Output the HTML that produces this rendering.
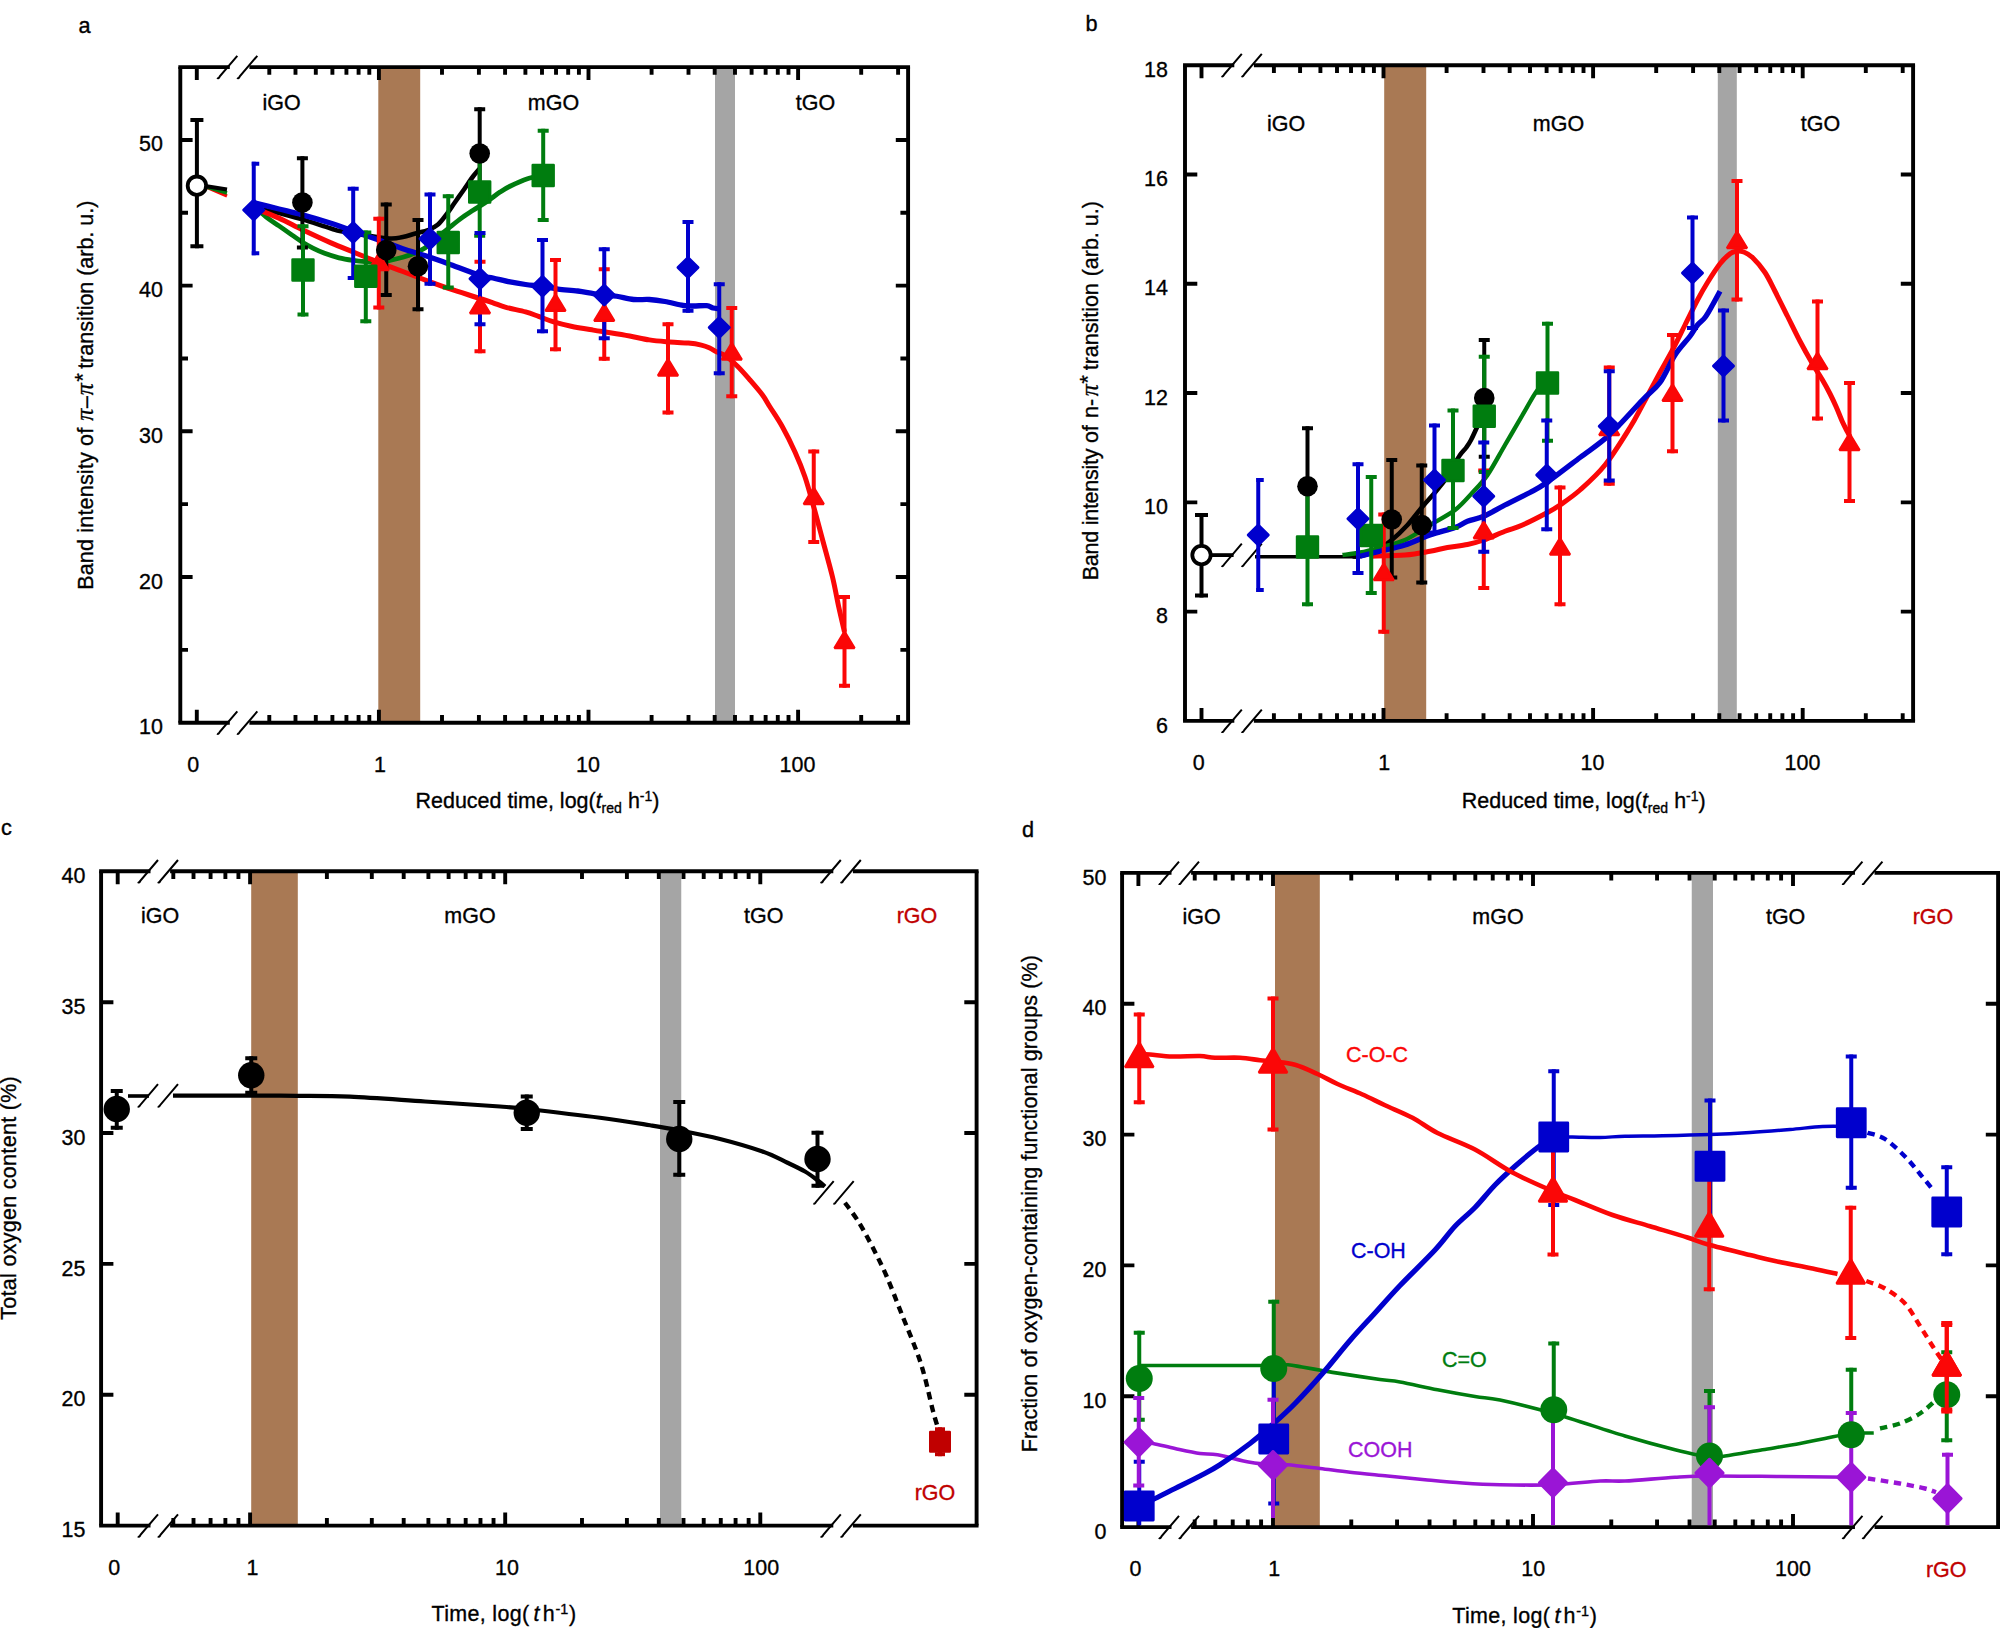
<!DOCTYPE html>
<html><head><meta charset="utf-8"><title>Figure</title>
<style>
html,body{margin:0;padding:0;background:#fff;}
svg{display:block;font-family:"Liberation Sans",sans-serif;}
text{stroke-width:0.35px;paint-order:stroke;}
</style></head><body>
<svg xmlns="http://www.w3.org/2000/svg" width="2000" height="1628" viewBox="0 0 2000 1628">
<rect width="2000" height="1628" fill="#fff"/>
<rect x="378.3" y="67.1" width="41.9" height="655.6" fill="#a97954"/>
<rect x="715" y="67.1" width="20" height="655.6" fill="#a5a5a5"/>
<path d="M178.35,67.1H229.8" stroke="#000" stroke-width="3.9"/>
<path d="M249.4,67.1H910.05" stroke="#000" stroke-width="3.9"/>
<path d="M178.35,722.7H229.8" stroke="#000" stroke-width="3.9"/>
<path d="M249.4,722.7H910.05" stroke="#000" stroke-width="3.9"/>
<path d="M180.3,67.1V722.7M908.1,67.1V722.7" stroke="#000" stroke-width="3.9"/>
<path d="M217,78Q218.6,79 219.8,76.3L237.3,55.8" stroke="#000" stroke-width="2" fill="none" stroke-linecap="butt"/>
<path d="M237,78Q238.6,79 239.8,76.3L257.3,55.8" stroke="#000" stroke-width="2" fill="none" stroke-linecap="butt"/>
<path d="M217,733.6Q218.6,734.6 219.8,731.9L237.3,711.4" stroke="#000" stroke-width="2" fill="none" stroke-linecap="butt"/>
<path d="M237,733.6Q238.6,734.6 239.8,731.9L257.3,711.4" stroke="#000" stroke-width="2" fill="none" stroke-linecap="butt"/>
<path d="M196.8,67.1v13M196.8,722.7v-13M378.9,67.1v13M378.9,722.7v-13M588.5,67.1v13M588.5,722.7v-13M798.1,67.1v13M798.1,722.7v-13M269.3,67.1v7.7M269.3,722.7v-7.7M295.49,67.1v7.7M295.49,722.7v-7.7M315.8,67.1v7.7M315.8,722.7v-7.7M332.4,67.1v7.7M332.4,722.7v-7.7M346.43,67.1v7.7M346.43,722.7v-7.7M358.59,67.1v7.7M358.59,722.7v-7.7M369.31,67.1v7.7M369.31,722.7v-7.7M442,67.1v7.7M442,722.7v-7.7M478.9,67.1v7.7M478.9,722.7v-7.7M505.09,67.1v7.7M505.09,722.7v-7.7M525.4,67.1v7.7M525.4,722.7v-7.7M542,67.1v7.7M542,722.7v-7.7M556.03,67.1v7.7M556.03,722.7v-7.7M568.19,67.1v7.7M568.19,722.7v-7.7M578.91,67.1v7.7M578.91,722.7v-7.7M651.6,67.1v7.7M651.6,722.7v-7.7M688.5,67.1v7.7M688.5,722.7v-7.7M714.69,67.1v7.7M714.69,722.7v-7.7M735,67.1v7.7M735,722.7v-7.7M751.6,67.1v7.7M751.6,722.7v-7.7M765.63,67.1v7.7M765.63,722.7v-7.7M777.79,67.1v7.7M777.79,722.7v-7.7M788.51,67.1v7.7M788.51,722.7v-7.7M861.2,67.1v7.7M861.2,722.7v-7.7M898.1,67.1v7.7M898.1,722.7v-7.7M180.3,577.01h12.3M908.1,577.01h-12.3M180.3,431.32h12.3M908.1,431.32h-12.3M180.3,285.63h12.3M908.1,285.63h-12.3M180.3,139.94h12.3M908.1,139.94h-12.3M180.3,649.86h7.7M908.1,649.86h-7.7M180.3,504.17h7.7M908.1,504.17h-7.7M180.3,358.48h7.7M908.1,358.48h-7.7M180.3,212.79h7.7M908.1,212.79h-7.7" stroke="#000" stroke-width="3.9" fill="none"/>
<path d="M205,186.5 L227,196" fill="none" stroke="#fb0707" stroke-width="3.5" stroke-linejoin="round" stroke-linecap="butt"/>
<path d="M205,186.5 L227,193" fill="none" stroke="#007d0f" stroke-width="3.5" stroke-linejoin="round" stroke-linecap="butt"/>
<path d="M205,186 L227,189.5" fill="none" stroke="#000" stroke-width="4" stroke-linejoin="round" stroke-linecap="butt"/>
<path d="M253,207.7 C257.33,208.57 270.75,210.95 279,212.9 C287.25,214.85 293.83,216.8 302.5,219.4 C311.17,222 324.08,226.43 331,228.5 C337.92,230.57 334.67,230.17 344,231.8 C353.33,233.43 377.2,237.43 387,238.3 C396.8,239.17 398.22,237.76 402.8,237 C407.38,236.24 410.17,234.95 414.5,233.75 C418.83,232.55 424.88,231.33 428.8,229.8 C432.72,228.28 435.18,226.98 438,224.6 C440.82,222.22 442.9,219.18 445.7,215.5 C448.5,211.82 451.75,206.83 454.8,202.5 C457.85,198.17 460.97,193.83 464,189.5 C467.03,185.17 470.4,179.98 473,176.5 C475.6,173.02 478.5,169.92 479.6,168.6" fill="none" stroke="#000" stroke-width="4.6" stroke-linejoin="round" stroke-linecap="butt"/>
<path d="M253,205.1 C255.17,207.05 261.67,213.33 266,216.8 C270.33,220.27 274.65,222.85 279,225.9 C283.35,228.95 288.18,232.38 292.1,235.1 C296.02,237.82 299.03,240.03 302.5,242.2 C305.97,244.37 309.22,246.25 312.9,248.1 C316.58,249.95 320.25,251.68 324.6,253.3 C328.95,254.92 334.22,256.62 339,257.8 C343.78,258.98 348.97,259.75 353.3,260.4 C357.63,261.05 360.77,261.37 365,261.7 C369.23,262.03 374.58,262.62 378.7,262.4 C382.82,262.18 385.68,261.27 389.7,260.4 C393.72,259.53 398.67,258.38 402.8,257.2 C406.93,256.02 410.82,254.82 414.5,253.3 C418.18,251.78 421.43,250.48 424.9,248.1 C428.37,245.72 431.4,242.27 435.3,239 C439.2,235.73 443.95,231.98 448.3,228.5 C452.65,225.02 457.27,221.13 461.4,218.1 C465.53,215.07 468.77,213.12 473.1,210.3 C477.43,207.48 482.92,204.23 487.4,201.2 C491.88,198.17 496.23,194.59 500,192.1 C503.77,189.61 505.42,188.47 510,186.25 C514.58,184.03 521.88,180.62 527.5,178.75 C533.12,176.88 541.04,175.62 543.75,175" fill="none" stroke="#007d0f" stroke-width="4.8" stroke-linejoin="round" stroke-linecap="butt"/>
<path d="M253,207.7 C257.33,209.43 270.75,214.42 279,218.1 C287.25,221.78 293.83,225.67 302.5,229.8 C311.17,233.93 322.53,239.2 331,242.9 C339.47,246.6 345.35,248.75 353.3,252 C361.25,255.25 370.45,259.15 378.7,262.4 C386.95,265.65 394.23,268.25 402.8,271.5 C411.37,274.75 422.52,279.08 430.1,281.9 C437.68,284.72 439.98,285.63 448.3,288.4 C456.62,291.17 472.55,296.1 480,298.5 C487.45,300.9 488.67,301.33 493,302.8 C497.33,304.27 500.57,305.78 506,307.3 C511.43,308.82 520.17,310.38 525.6,311.9 C531.03,313.42 534.05,314.78 538.6,316.4 C543.15,318.02 547.48,319.97 552.9,321.6 C558.32,323.23 564.37,324.78 571.1,326.2 C577.83,327.62 586.78,329.02 593.3,330.1 C599.82,331.18 604.13,331.72 610.2,332.7 C616.27,333.68 623.18,334.8 629.7,336 C636.22,337.2 643,338.93 649.3,339.9 C655.6,340.87 661,341.27 667.5,341.8 C674,342.33 682.65,342.55 688.3,343.1 C693.95,343.65 697.92,344.33 701.4,345.1 C704.88,345.87 706.6,346.55 709.2,347.7 C711.8,348.85 714.37,350.7 717,352 C719.63,353.3 721.58,353.12 725,355.5 C728.42,357.88 733.33,362.17 737.5,366.25 C741.67,370.33 745.83,375.21 750,380 C754.17,384.79 759.17,390.5 762.5,395 C765.83,399.5 766.67,401.67 770,407 C773.33,412.33 778.33,419.5 782.5,427 C786.67,434.5 791.25,443.67 795,452 C798.75,460.33 801.88,467.83 805,477 C808.12,486.17 810.83,496.58 813.75,507 C816.67,517.42 819.38,527.83 822.5,539.5 C825.62,551.17 829.79,565.75 832.5,577 C835.21,588.25 836.75,597.83 838.75,607 C840.75,616.17 843.54,627.83 844.5,632" fill="none" stroke="#fb0707" stroke-width="5" stroke-linejoin="round" stroke-linecap="butt"/>
<path d="M253,202.5 C257.33,203.58 270.75,206.93 279,209 C287.25,211.07 293.83,212.52 302.5,214.9 C311.17,217.28 322.53,220.6 331,223.3 C339.47,226 346.77,228.82 353.3,231.1 C359.83,233.38 364.57,235.03 370.2,237 C375.83,238.97 381.67,240.95 387.1,242.9 C392.53,244.85 395.63,246.32 402.8,248.7 C409.97,251.08 422.52,254.7 430.1,257.2 C437.68,259.7 439.98,260.67 448.3,263.7 C456.62,266.73 472.55,273.02 480,275.4 C487.45,277.78 488,276.92 493,278 C498,279.08 504.57,280.82 510,281.9 C515.43,282.98 520.18,283.73 525.6,284.5 C531.02,285.27 537.08,285.73 542.5,286.5 C547.92,287.27 552.23,288.35 558.1,289.1 C563.97,289.85 571.83,290.25 577.7,291 C583.57,291.75 588.87,292.93 593.3,293.6 C597.73,294.27 600.4,294.56 604.3,295 C608.2,295.44 611.82,295.5 616.7,296.25 C621.58,297 628.17,298.96 633.6,299.5 C639.03,300.04 644.08,299.17 649.3,299.5 C654.52,299.83 659.27,300.52 664.9,301.5 C670.53,302.48 678.33,304.65 683.1,305.4 C687.87,306.15 689.58,305.97 693.5,306 C697.42,306.03 703.33,305.27 706.6,305.6 C709.87,305.93 711.15,307.5 713.1,308 C715.05,308.5 717.43,308.5 718.3,308.6" fill="none" stroke="#0000cd" stroke-width="5.3" stroke-linejoin="round" stroke-linecap="butt"/>
<path d="M378.8,216.75V309.5" fill="none" stroke="#fb0707" stroke-width="4"/>
<rect x="373.3" y="216.75" width="11" height="4" fill="#fb0707"/>
<rect x="373.3" y="305.5" width="11" height="4" fill="#fb0707"/>
<path d="M480,259.75V353.25" fill="none" stroke="#fb0707" stroke-width="4"/>
<rect x="474.5" y="259.75" width="11" height="4" fill="#fb0707"/>
<rect x="474.5" y="349.25" width="11" height="4" fill="#fb0707"/>
<path d="M555.5,258V351.25" fill="none" stroke="#fb0707" stroke-width="4"/>
<rect x="550" y="258" width="11" height="4" fill="#fb0707"/>
<rect x="550" y="347.25" width="11" height="4" fill="#fb0707"/>
<path d="M604.25,267.25V360.75" fill="none" stroke="#fb0707" stroke-width="4"/>
<rect x="598.75" y="267.25" width="11" height="4" fill="#fb0707"/>
<rect x="598.75" y="356.75" width="11" height="4" fill="#fb0707"/>
<path d="M668,322.25V414.5" fill="none" stroke="#fb0707" stroke-width="4"/>
<rect x="662.5" y="322.25" width="11" height="4" fill="#fb0707"/>
<rect x="662.5" y="410.5" width="11" height="4" fill="#fb0707"/>
<path d="M731.75,306V398.25" fill="none" stroke="#fb0707" stroke-width="4"/>
<rect x="726.25" y="306" width="11" height="4" fill="#fb0707"/>
<rect x="726.25" y="394.25" width="11" height="4" fill="#fb0707"/>
<path d="M813.75,449.5V544" fill="none" stroke="#fb0707" stroke-width="4"/>
<rect x="808.25" y="449.5" width="11" height="4" fill="#fb0707"/>
<rect x="808.25" y="540" width="11" height="4" fill="#fb0707"/>
<path d="M844.5,595V687.75" fill="none" stroke="#fb0707" stroke-width="4"/>
<rect x="839" y="595" width="11" height="4" fill="#fb0707"/>
<rect x="839" y="683.75" width="11" height="4" fill="#fb0707"/>
<path d="M302.4,156.25V249.5" fill="none" stroke="#000" stroke-width="4"/>
<rect x="296.9" y="156.25" width="11" height="4" fill="#000"/>
<rect x="296.9" y="245.5" width="11" height="4" fill="#000"/>
<path d="M386.25,202.5V297" fill="none" stroke="#000" stroke-width="4"/>
<rect x="380.75" y="202.5" width="11" height="4" fill="#000"/>
<rect x="380.75" y="293" width="11" height="4" fill="#000"/>
<path d="M418,218V311.25" fill="none" stroke="#000" stroke-width="4"/>
<rect x="412.5" y="218" width="11" height="4" fill="#000"/>
<rect x="412.5" y="307.25" width="11" height="4" fill="#000"/>
<path d="M479.7,107.25V200" fill="none" stroke="#000" stroke-width="4"/>
<rect x="474.2" y="107.25" width="11" height="4" fill="#000"/>
<rect x="474.2" y="196" width="11" height="4" fill="#000"/>
<path d="M196.9,118V248.25" fill="none" stroke="#000" stroke-width="4"/>
<rect x="190.4" y="118" width="13" height="4" fill="#000"/>
<rect x="190.4" y="244.25" width="13" height="4" fill="#000"/>
<path d="M303,224.25V316.5" fill="none" stroke="#007d0f" stroke-width="4"/>
<rect x="297.5" y="224.25" width="11" height="4" fill="#007d0f"/>
<rect x="297.5" y="312.5" width="11" height="4" fill="#007d0f"/>
<path d="M365.8,230.5V323.25" fill="none" stroke="#007d0f" stroke-width="4"/>
<rect x="360.3" y="230.5" width="11" height="4" fill="#007d0f"/>
<rect x="360.3" y="319.25" width="11" height="4" fill="#007d0f"/>
<path d="M448.25,194.25V289.5" fill="none" stroke="#007d0f" stroke-width="4"/>
<rect x="442.75" y="194.25" width="11" height="4" fill="#007d0f"/>
<rect x="442.75" y="285.5" width="11" height="4" fill="#007d0f"/>
<path d="M479.7,145V237.75" fill="none" stroke="#007d0f" stroke-width="4"/>
<rect x="474.2" y="145" width="11" height="4" fill="#007d0f"/>
<rect x="474.2" y="233.75" width="11" height="4" fill="#007d0f"/>
<path d="M543.2,128.75V222" fill="none" stroke="#007d0f" stroke-width="4"/>
<rect x="537.7" y="128.75" width="11" height="4" fill="#007d0f"/>
<rect x="537.7" y="218" width="11" height="4" fill="#007d0f"/>
<path d="M253.75,161.75V255.25" fill="none" stroke="#0000cd" stroke-width="4"/>
<rect x="251.75" y="161.75" width="7.5" height="4" fill="#0000cd"/>
<rect x="251.75" y="251.25" width="7.5" height="4" fill="#0000cd"/>
<path d="M353.2,186.75V280" fill="none" stroke="#0000cd" stroke-width="4"/>
<rect x="347.7" y="186.75" width="11" height="4" fill="#0000cd"/>
<rect x="347.7" y="276" width="11" height="4" fill="#0000cd"/>
<path d="M430,192.5V285.75" fill="none" stroke="#0000cd" stroke-width="4"/>
<rect x="424.5" y="192.5" width="11" height="4" fill="#0000cd"/>
<rect x="424.5" y="281.75" width="11" height="4" fill="#0000cd"/>
<path d="M480,231V326.25" fill="none" stroke="#0000cd" stroke-width="4"/>
<rect x="474.5" y="231" width="11" height="4" fill="#0000cd"/>
<rect x="474.5" y="322.25" width="11" height="4" fill="#0000cd"/>
<path d="M542.5,238V333.25" fill="none" stroke="#0000cd" stroke-width="4"/>
<rect x="537" y="238" width="11" height="4" fill="#0000cd"/>
<rect x="537" y="329.25" width="11" height="4" fill="#0000cd"/>
<path d="M604.25,247.25V340.25" fill="none" stroke="#0000cd" stroke-width="4"/>
<rect x="598.75" y="247.25" width="11" height="4" fill="#0000cd"/>
<rect x="598.75" y="336.25" width="11" height="4" fill="#0000cd"/>
<path d="M688,220V312.75" fill="none" stroke="#0000cd" stroke-width="4"/>
<rect x="682.5" y="220" width="11" height="4" fill="#0000cd"/>
<rect x="682.5" y="308.75" width="11" height="4" fill="#0000cd"/>
<path d="M719.25,282.25V375.25" fill="none" stroke="#0000cd" stroke-width="4"/>
<rect x="713.75" y="282.25" width="11" height="4" fill="#0000cd"/>
<rect x="713.75" y="371.25" width="11" height="4" fill="#0000cd"/>
<path d="M378.8,253.5L388.8,270L368.8,270Z" fill="#fb0707" stroke="#fb0707" stroke-width="2.4" stroke-linejoin="bevel"/>
<path d="M480,296.75L490,313.25L470,313.25Z" fill="#fb0707" stroke="#fb0707" stroke-width="2.4" stroke-linejoin="bevel"/>
<path d="M555.5,294.25L565.5,310.75L545.5,310.75Z" fill="#fb0707" stroke="#fb0707" stroke-width="2.4" stroke-linejoin="bevel"/>
<path d="M604.25,304.25L614.25,320.75L594.25,320.75Z" fill="#fb0707" stroke="#fb0707" stroke-width="2.4" stroke-linejoin="bevel"/>
<path d="M668,359L678,375.5L658,375.5Z" fill="#fb0707" stroke="#fb0707" stroke-width="2.4" stroke-linejoin="bevel"/>
<path d="M731.75,343L741.75,359.5L721.75,359.5Z" fill="#fb0707" stroke="#fb0707" stroke-width="2.4" stroke-linejoin="bevel"/>
<path d="M813.75,487.5L823.75,504L803.75,504Z" fill="#fb0707" stroke="#fb0707" stroke-width="2.4" stroke-linejoin="bevel"/>
<path d="M844.5,631.5L854.5,648L834.5,648Z" fill="#fb0707" stroke="#fb0707" stroke-width="2.4" stroke-linejoin="bevel"/>
<circle cx="302.4" cy="202.5" r="10.3" fill="#000" stroke="#000" stroke-width="0"/>
<circle cx="386.25" cy="250" r="10.3" fill="#000" stroke="#000" stroke-width="0"/>
<circle cx="418" cy="266.25" r="10.3" fill="#000" stroke="#000" stroke-width="0"/>
<circle cx="479.7" cy="153.5" r="10.3" fill="#000" stroke="#000" stroke-width="0"/>
<circle cx="196.9" cy="185.7" r="9.2" fill="#fff" stroke="#000" stroke-width="3.8"/>
<rect x="292.6" y="259.6" width="20.8" height="20.8" fill="#007d0f" stroke="#007d0f" stroke-width="2.6" stroke-linejoin="round"/>
<rect x="355.4" y="265.85" width="20.8" height="20.8" fill="#007d0f" stroke="#007d0f" stroke-width="2.6" stroke-linejoin="round"/>
<rect x="437.85" y="232.1" width="20.8" height="20.8" fill="#007d0f" stroke="#007d0f" stroke-width="2.6" stroke-linejoin="round"/>
<rect x="469.3" y="181.6" width="20.8" height="20.8" fill="#007d0f" stroke="#007d0f" stroke-width="2.6" stroke-linejoin="round"/>
<rect x="532.8" y="165.1" width="20.8" height="20.8" fill="#007d0f" stroke="#007d0f" stroke-width="2.6" stroke-linejoin="round"/>
<path d="M253.75,199.83L263.92,210L253.75,220.17L243.58,210Z" fill="#0000cd" stroke="#0000cd" stroke-width="2.6" stroke-linejoin="round"/>
<path d="M353.2,222.33L363.37,232.5L353.2,242.67L343.03,232.5Z" fill="#0000cd" stroke="#0000cd" stroke-width="2.6" stroke-linejoin="round"/>
<path d="M430,228.58L440.17,238.75L430,248.92L419.83,238.75Z" fill="#0000cd" stroke="#0000cd" stroke-width="2.6" stroke-linejoin="round"/>
<path d="M480,268.58L490.17,278.75L480,288.92L469.83,278.75Z" fill="#0000cd" stroke="#0000cd" stroke-width="2.6" stroke-linejoin="round"/>
<path d="M542.5,276.08L552.67,286.25L542.5,296.42L532.33,286.25Z" fill="#0000cd" stroke="#0000cd" stroke-width="2.6" stroke-linejoin="round"/>
<path d="M604.25,284.83L614.42,295L604.25,305.17L594.08,295Z" fill="#0000cd" stroke="#0000cd" stroke-width="2.6" stroke-linejoin="round"/>
<path d="M688,257.33L698.17,267.5L688,277.67L677.83,267.5Z" fill="#0000cd" stroke="#0000cd" stroke-width="2.6" stroke-linejoin="round"/>
<path d="M719.25,317.33L729.42,327.5L719.25,337.67L709.08,327.5Z" fill="#0000cd" stroke="#0000cd" stroke-width="2.6" stroke-linejoin="round"/>
<text transform="translate(84.5,32.5) scale(1,1)" text-anchor="middle" fill="#000" stroke="#000" font-size="21.7" >a</text>
<text transform="translate(281.5,109.5) scale(0.95,1)" text-anchor="middle" fill="#000" stroke="#000" font-size="22.6" >iGO</text>
<text transform="translate(553.5,109.5) scale(0.95,1)" text-anchor="middle" fill="#000" stroke="#000" font-size="22.6" >mGO</text>
<text transform="translate(815.5,109.5) scale(0.95,1)" text-anchor="middle" fill="#000" stroke="#000" font-size="22.6" >tGO</text>
<text transform="translate(163,734.2) scale(0.95,1)" text-anchor="end" fill="#000" stroke="#000" font-size="22.6" >10</text>
<text transform="translate(163,588.51) scale(0.95,1)" text-anchor="end" fill="#000" stroke="#000" font-size="22.6" >20</text>
<text transform="translate(163,442.82) scale(0.95,1)" text-anchor="end" fill="#000" stroke="#000" font-size="22.6" >30</text>
<text transform="translate(163,297.13) scale(0.95,1)" text-anchor="end" fill="#000" stroke="#000" font-size="22.6" >40</text>
<text transform="translate(163,151.44) scale(0.95,1)" text-anchor="end" fill="#000" stroke="#000" font-size="22.6" >50</text>
<text transform="translate(193.25,772) scale(0.95,1)" text-anchor="middle" fill="#000" stroke="#000" font-size="22.6" >0</text>
<text transform="translate(380,772) scale(0.95,1)" text-anchor="middle" fill="#000" stroke="#000" font-size="22.6" >1</text>
<text transform="translate(588,772) scale(0.95,1)" text-anchor="middle" fill="#000" stroke="#000" font-size="22.6" >10</text>
<text transform="translate(797.5,772) scale(0.95,1)" text-anchor="middle" fill="#000" stroke="#000" font-size="22.6" >100</text>
<text transform="translate(537.5,807.6) scale(0.95,1)" text-anchor="middle" fill="#000" stroke="#000" font-size="22.6" >Reduced time, log(<tspan font-style="italic">t</tspan><tspan dy="5" font-size="14.8">red</tspan><tspan dy="-5"> h</tspan><tspan dy="-7" font-size="14.8">-1</tspan><tspan dy="7">)</tspan></text>
<g transform="translate(93.2,589.8) rotate(-90)" font-size="22.6" stroke="#000">
<text transform="translate(0,0) scale(0.95,1)" textLength="170.53" lengthAdjust="spacing">Band intensity of</text>
<text transform="translate(169,0) scale(0.95,1)" textLength="49.05" lengthAdjust="spacing"><tspan font-style="italic" font-family="Liberation Serif,serif" font-size="25">π</tspan>–<tspan font-style="italic" font-family="Liberation Serif,serif" font-size="25">π</tspan><tspan font-style="italic" dy="-3">*</tspan></text>
<text transform="translate(221,0) scale(0.95,1)">transition</text>
<text transform="translate(314,0) scale(0.95,1)">(arb. u.)</text>
</g>
<rect x="1384.2" y="65.2" width="42" height="655.7" fill="#a97954"/>
<rect x="1717.8" y="65.2" width="19" height="655.7" fill="#a5a5a5"/>
<path d="M1183.05,65.2H1234.3" stroke="#000" stroke-width="3.9"/>
<path d="M1253.9,65.2H1915.05" stroke="#000" stroke-width="3.9"/>
<path d="M1183.05,720.9H1234.3" stroke="#000" stroke-width="3.9"/>
<path d="M1253.9,720.9H1915.05" stroke="#000" stroke-width="3.9"/>
<path d="M1185,65.2V720.9M1913.1,65.2V720.9" stroke="#000" stroke-width="3.9"/>
<path d="M1221.5,76.1Q1223.1,77.1 1224.3,74.4L1241.8,53.9" stroke="#000" stroke-width="2" fill="none" stroke-linecap="butt"/>
<path d="M1241.5,76.1Q1243.1,77.1 1244.3,74.4L1261.8,53.9" stroke="#000" stroke-width="2" fill="none" stroke-linecap="butt"/>
<path d="M1221.5,731.8Q1223.1,732.8 1224.3,730.1L1241.8,709.6" stroke="#000" stroke-width="2" fill="none" stroke-linecap="butt"/>
<path d="M1241.5,731.8Q1243.1,732.8 1244.3,730.1L1261.8,709.6" stroke="#000" stroke-width="2" fill="none" stroke-linecap="butt"/>
<path d="M1201.5,65.2v13M1201.5,720.9v-13M1383.5,65.2v13M1383.5,720.9v-13M1593.1,65.2v13M1593.1,720.9v-13M1802.7,65.2v13M1802.7,720.9v-13M1273.9,65.2v7.7M1273.9,720.9v-7.7M1300.09,65.2v7.7M1300.09,720.9v-7.7M1320.4,65.2v7.7M1320.4,720.9v-7.7M1337,65.2v7.7M1337,720.9v-7.7M1351.03,65.2v7.7M1351.03,720.9v-7.7M1363.19,65.2v7.7M1363.19,720.9v-7.7M1373.91,65.2v7.7M1373.91,720.9v-7.7M1446.6,65.2v7.7M1446.6,720.9v-7.7M1483.5,65.2v7.7M1483.5,720.9v-7.7M1509.69,65.2v7.7M1509.69,720.9v-7.7M1530,65.2v7.7M1530,720.9v-7.7M1546.6,65.2v7.7M1546.6,720.9v-7.7M1560.63,65.2v7.7M1560.63,720.9v-7.7M1572.79,65.2v7.7M1572.79,720.9v-7.7M1583.51,65.2v7.7M1583.51,720.9v-7.7M1656.2,65.2v7.7M1656.2,720.9v-7.7M1693.1,65.2v7.7M1693.1,720.9v-7.7M1719.29,65.2v7.7M1719.29,720.9v-7.7M1739.6,65.2v7.7M1739.6,720.9v-7.7M1756.2,65.2v7.7M1756.2,720.9v-7.7M1770.23,65.2v7.7M1770.23,720.9v-7.7M1782.39,65.2v7.7M1782.39,720.9v-7.7M1793.11,65.2v7.7M1793.11,720.9v-7.7M1865.8,65.2v7.7M1865.8,720.9v-7.7M1902.7,65.2v7.7M1902.7,720.9v-7.7M1185,611.62h12.3M1913.1,611.62h-12.3M1185,502.34h12.3M1913.1,502.34h-12.3M1185,393.06h12.3M1913.1,393.06h-12.3M1185,283.78h12.3M1913.1,283.78h-12.3M1185,174.5h12.3M1913.1,174.5h-12.3" stroke="#000" stroke-width="3.9" fill="none"/>
<path d="M1255,556.75 L1355,556.75" fill="none" stroke="#000" stroke-width="3.4" stroke-linejoin="round" stroke-linecap="butt"/>
<path d="M1211,555.1 L1233.6,555.1" fill="none" stroke="#000" stroke-width="3.8" stroke-linejoin="round" stroke-linecap="butt"/>
<path d="M1352.5,556.5 C1353.75,556.46 1356.25,557.12 1360,556.25 C1363.75,555.38 1369.71,553.96 1375,551.25 C1380.29,548.54 1386.33,544.38 1391.75,540 C1397.17,535.62 1402.5,530.42 1407.5,525 C1412.5,519.58 1417.17,512.92 1421.75,507.5 C1426.33,502.08 1431.12,497.08 1435,492.5 C1438.88,487.92 1442.08,484.17 1445,480 C1447.92,475.83 1450,471.67 1452.5,467.5 C1455,463.33 1457.71,458.33 1460,455 C1462.29,451.67 1464.42,450 1466.25,447.5 C1468.08,445 1469.04,443.75 1471,440 C1472.96,436.25 1475.83,429.67 1478,425 C1480.17,420.33 1483,414.17 1484,412" fill="none" stroke="#000" stroke-width="4.6" stroke-linejoin="round" stroke-linecap="butt"/>
<path d="M1342.5,555 C1345.42,554.58 1353.75,553.75 1360,552.5 C1366.25,551.25 1372.5,549.58 1380,547.5 C1387.5,545.42 1396.67,543.75 1405,540 C1413.33,536.25 1421.67,530 1430,525 C1438.33,520 1447.92,515.42 1455,510 C1462.08,504.58 1467.08,498.33 1472.5,492.5 C1477.92,486.67 1482.08,482.92 1487.5,475 C1492.92,467.08 1499.17,455 1505,445 C1510.83,435 1517.08,424.17 1522.5,415 C1527.92,405.83 1533.33,395.33 1537.5,390 C1541.67,384.67 1545.83,384.17 1547.5,383" fill="none" stroke="#007d0f" stroke-width="4.4" stroke-linejoin="round" stroke-linecap="butt"/>
<path d="M1370,556.25 C1375.83,556.04 1395,555.83 1405,555 C1415,554.17 1422.92,552.5 1430,551.25 C1437.08,550 1441.25,548.62 1447.5,547.5 C1453.75,546.38 1461.46,545.75 1467.5,544.5 C1473.54,543.25 1477.5,542.21 1483.75,540 C1490,537.79 1498.54,533.75 1505,531.25 C1511.46,528.75 1515.42,528.12 1522.5,525 C1529.58,521.88 1541.25,515.83 1547.5,512.5 C1553.75,509.17 1554.58,508.75 1560,505 C1565.42,501.25 1572.5,496.67 1580,490 C1587.5,483.33 1596.67,475.42 1605,465 C1613.33,454.58 1623.75,437.5 1630,427.5 C1636.25,417.5 1637.5,414.17 1642.5,405 C1647.5,395.83 1655,381.67 1660,372.5 C1665,363.33 1668.33,357.92 1672.5,350 C1676.67,342.08 1680.83,333.33 1685,325 C1689.17,316.67 1693.75,307.08 1697.5,300 C1701.25,292.92 1703.75,288.54 1707.5,282.5 C1711.25,276.46 1716.25,268.54 1720,263.75 C1723.75,258.96 1727.29,255.83 1730,253.75 C1732.71,251.67 1733.96,251.54 1736.25,251.25 C1738.54,250.96 1741.04,250.96 1743.75,252 C1746.46,253.04 1748.96,254.08 1752.5,257.5 C1756.04,260.92 1761.25,266.88 1765,272.5 C1768.75,278.12 1771.25,283.96 1775,291.25 C1778.75,298.54 1783.33,307.92 1787.5,316.25 C1791.67,324.58 1795.83,333.33 1800,341.25 C1804.17,349.17 1808.75,357.29 1812.5,363.75 C1816.25,370.21 1819.58,375 1822.5,380 C1825.42,385 1827.71,389.25 1830,393.75 C1832.29,398.25 1834.17,402.29 1836.25,407 C1838.33,411.71 1840.62,417.83 1842.5,422 C1844.38,426.17 1846.25,429.5 1847.5,432 C1848.75,434.5 1849.58,436.17 1850,437" fill="none" stroke="#fb0707" stroke-width="5" stroke-linejoin="round" stroke-linecap="butt"/>
<path d="M1360,556.25 C1363.33,555.42 1372.5,553.12 1380,551.25 C1387.5,549.38 1396.67,547.71 1405,545 C1413.33,542.29 1421.67,537.92 1430,535 C1438.33,532.08 1448.75,529.79 1455,527.5 C1461.25,525.21 1462.71,523.12 1467.5,521.25 C1472.29,519.38 1477.5,518.96 1483.75,516.25 C1490,513.54 1497.29,508.96 1505,505 C1512.71,501.04 1523.04,496.25 1530,492.5 C1536.96,488.75 1538.42,488.33 1546.75,482.5 C1555.08,476.67 1569.58,465.42 1580,457.5 C1590.42,449.58 1598.83,444.58 1609.25,435 C1619.67,425.42 1634.04,408.75 1642.5,400 C1650.96,391.25 1654.58,390 1660,382.5 C1665.42,375 1670,362.71 1675,355 C1680,347.29 1686.25,341.25 1690,336.25 C1693.75,331.25 1695,328.12 1697.5,325 C1700,321.88 1702.5,320.83 1705,317.5 C1707.5,314.17 1710,309.38 1712.5,305 C1715,300.62 1718.75,293.54 1720,291.25" fill="none" stroke="#0000cd" stroke-width="5.3" stroke-linejoin="round" stroke-linecap="butt"/>
<path d="M1221.5,565.9Q1223.1,566.9 1224.3,564.2L1241.8,543.7" stroke="#000" stroke-width="2" fill="none" stroke-linecap="butt"/>
<path d="M1241.5,565.9Q1243.1,566.9 1244.3,564.2L1261.8,543.7" stroke="#000" stroke-width="2" fill="none" stroke-linecap="butt"/>
<path d="M1383.75,512.5V633.75" fill="none" stroke="#fb0707" stroke-width="4"/>
<rect x="1378.25" y="512.5" width="11" height="4" fill="#fb0707"/>
<rect x="1378.25" y="629.75" width="11" height="4" fill="#fb0707"/>
<path d="M1483.75,468.5V590" fill="none" stroke="#fb0707" stroke-width="4"/>
<rect x="1478.25" y="468.5" width="11" height="4" fill="#fb0707"/>
<rect x="1478.25" y="586" width="11" height="4" fill="#fb0707"/>
<path d="M1560,485.5V606.25" fill="none" stroke="#fb0707" stroke-width="4"/>
<rect x="1554.5" y="485.5" width="11" height="4" fill="#fb0707"/>
<rect x="1554.5" y="602.25" width="11" height="4" fill="#fb0707"/>
<path d="M1609.25,365.5V485.75" fill="none" stroke="#fb0707" stroke-width="4"/>
<rect x="1603.75" y="365.5" width="11" height="4" fill="#fb0707"/>
<rect x="1603.75" y="481.75" width="11" height="4" fill="#fb0707"/>
<path d="M1672.5,333V453.25" fill="none" stroke="#fb0707" stroke-width="4"/>
<rect x="1667" y="333" width="11" height="4" fill="#fb0707"/>
<rect x="1667" y="449.25" width="11" height="4" fill="#fb0707"/>
<path d="M1737,179V301.5" fill="none" stroke="#fb0707" stroke-width="4"/>
<rect x="1731.5" y="179" width="11" height="4" fill="#fb0707"/>
<rect x="1731.5" y="297.5" width="11" height="4" fill="#fb0707"/>
<path d="M1817.5,299.5V420.5" fill="none" stroke="#fb0707" stroke-width="4"/>
<rect x="1812" y="299.5" width="11" height="4" fill="#fb0707"/>
<rect x="1812" y="416.5" width="11" height="4" fill="#fb0707"/>
<path d="M1849.5,381V503" fill="none" stroke="#fb0707" stroke-width="4"/>
<rect x="1844" y="381" width="11" height="4" fill="#fb0707"/>
<rect x="1844" y="499" width="11" height="4" fill="#fb0707"/>
<path d="M1307.5,426.25V546" fill="none" stroke="#000" stroke-width="4"/>
<rect x="1302" y="426.25" width="11" height="4" fill="#000"/>
<rect x="1302" y="542" width="11" height="4" fill="#000"/>
<path d="M1391.75,458V579.5" fill="none" stroke="#000" stroke-width="4"/>
<rect x="1386.25" y="458" width="11" height="4" fill="#000"/>
<rect x="1386.25" y="575.5" width="11" height="4" fill="#000"/>
<path d="M1421.75,463.5V584.5" fill="none" stroke="#000" stroke-width="4"/>
<rect x="1416.25" y="463.5" width="11" height="4" fill="#000"/>
<rect x="1416.25" y="580.5" width="11" height="4" fill="#000"/>
<path d="M1484.25,338V458.75" fill="none" stroke="#000" stroke-width="4"/>
<rect x="1478.75" y="338" width="11" height="4" fill="#000"/>
<rect x="1478.75" y="454.75" width="11" height="4" fill="#000"/>
<path d="M1201.5,513V597.5" fill="none" stroke="#000" stroke-width="4"/>
<rect x="1195" y="513" width="13" height="4" fill="#000"/>
<rect x="1195" y="593.5" width="13" height="4" fill="#000"/>
<path d="M1307.5,488V606.25" fill="none" stroke="#007d0f" stroke-width="4"/>
<rect x="1302" y="488" width="11" height="4" fill="#007d0f"/>
<rect x="1302" y="602.25" width="11" height="4" fill="#007d0f"/>
<path d="M1371.25,475V595" fill="none" stroke="#007d0f" stroke-width="4"/>
<rect x="1365.75" y="475" width="11" height="4" fill="#007d0f"/>
<rect x="1365.75" y="591" width="11" height="4" fill="#007d0f"/>
<path d="M1453,408.5V530" fill="none" stroke="#007d0f" stroke-width="4"/>
<rect x="1447.5" y="408.5" width="11" height="4" fill="#007d0f"/>
<rect x="1447.5" y="526" width="11" height="4" fill="#007d0f"/>
<path d="M1484.25,354.75V474" fill="none" stroke="#007d0f" stroke-width="4"/>
<rect x="1478.75" y="354.75" width="11" height="4" fill="#007d0f"/>
<rect x="1478.75" y="470" width="11" height="4" fill="#007d0f"/>
<path d="M1547.5,321.75V442.75" fill="none" stroke="#007d0f" stroke-width="4"/>
<rect x="1542" y="321.75" width="11" height="4" fill="#007d0f"/>
<rect x="1542" y="438.75" width="11" height="4" fill="#007d0f"/>
<path d="M1258.25,478V592" fill="none" stroke="#0000cd" stroke-width="4"/>
<rect x="1256.25" y="478" width="7.5" height="4" fill="#0000cd"/>
<rect x="1256.25" y="588" width="7.5" height="4" fill="#0000cd"/>
<path d="M1358,462.25V575" fill="none" stroke="#0000cd" stroke-width="4"/>
<rect x="1352.5" y="462.25" width="11" height="4" fill="#0000cd"/>
<rect x="1352.5" y="571" width="11" height="4" fill="#0000cd"/>
<path d="M1434.5,423.5V534.5" fill="none" stroke="#0000cd" stroke-width="4"/>
<rect x="1429" y="423.5" width="11" height="4" fill="#0000cd"/>
<rect x="1429" y="530.5" width="11" height="4" fill="#0000cd"/>
<path d="M1483.75,440.5V553.75" fill="none" stroke="#0000cd" stroke-width="4"/>
<rect x="1478.25" y="440.5" width="11" height="4" fill="#0000cd"/>
<rect x="1478.25" y="549.75" width="11" height="4" fill="#0000cd"/>
<path d="M1546.75,418.5V531.25" fill="none" stroke="#0000cd" stroke-width="4"/>
<rect x="1541.25" y="418.5" width="11" height="4" fill="#0000cd"/>
<rect x="1541.25" y="527.25" width="11" height="4" fill="#0000cd"/>
<path d="M1609.25,369.25V482.5" fill="none" stroke="#0000cd" stroke-width="4"/>
<rect x="1603.75" y="369.25" width="11" height="4" fill="#0000cd"/>
<rect x="1603.75" y="478.5" width="11" height="4" fill="#0000cd"/>
<path d="M1692.5,215.5V330" fill="none" stroke="#0000cd" stroke-width="4"/>
<rect x="1687" y="215.5" width="11" height="4" fill="#0000cd"/>
<rect x="1687" y="326" width="11" height="4" fill="#0000cd"/>
<path d="M1723.5,308.5V422.5" fill="none" stroke="#0000cd" stroke-width="4"/>
<rect x="1718" y="308.5" width="11" height="4" fill="#0000cd"/>
<rect x="1718" y="418.5" width="11" height="4" fill="#0000cd"/>
<path d="M1383.75,563.5L1393.75,580L1373.75,580Z" fill="#fb0707" stroke="#fb0707" stroke-width="2.4" stroke-linejoin="bevel"/>
<path d="M1483.75,521.75L1493.75,538.25L1473.75,538.25Z" fill="#fb0707" stroke="#fb0707" stroke-width="2.4" stroke-linejoin="bevel"/>
<path d="M1560,538L1570,554.5L1550,554.5Z" fill="#fb0707" stroke="#fb0707" stroke-width="2.4" stroke-linejoin="bevel"/>
<path d="M1609.25,418.5L1619.25,435L1599.25,435Z" fill="#fb0707" stroke="#fb0707" stroke-width="2.4" stroke-linejoin="bevel"/>
<path d="M1672.5,384.25L1682.5,400.75L1662.5,400.75Z" fill="#fb0707" stroke="#fb0707" stroke-width="2.4" stroke-linejoin="bevel"/>
<path d="M1737,231.5L1747,248L1727,248Z" fill="#fb0707" stroke="#fb0707" stroke-width="2.4" stroke-linejoin="bevel"/>
<path d="M1817.5,352.5L1827.5,369L1807.5,369Z" fill="#fb0707" stroke="#fb0707" stroke-width="2.4" stroke-linejoin="bevel"/>
<path d="M1849.5,433.5L1859.5,450L1839.5,450Z" fill="#fb0707" stroke="#fb0707" stroke-width="2.4" stroke-linejoin="bevel"/>
<circle cx="1307.5" cy="486.25" r="10.3" fill="#000" stroke="#000" stroke-width="0"/>
<circle cx="1391.75" cy="519.5" r="10.3" fill="#000" stroke="#000" stroke-width="0"/>
<circle cx="1421.75" cy="525" r="10.3" fill="#000" stroke="#000" stroke-width="0"/>
<circle cx="1484.25" cy="398" r="10.3" fill="#000" stroke="#000" stroke-width="0"/>
<circle cx="1201.5" cy="555.1" r="9.2" fill="#fff" stroke="#000" stroke-width="3.8"/>
<rect x="1297.1" y="536.6" width="20.8" height="20.8" fill="#007d0f" stroke="#007d0f" stroke-width="2.6" stroke-linejoin="round"/>
<rect x="1360.85" y="525.1" width="20.8" height="20.8" fill="#007d0f" stroke="#007d0f" stroke-width="2.6" stroke-linejoin="round"/>
<rect x="1442.6" y="460.1" width="20.8" height="20.8" fill="#007d0f" stroke="#007d0f" stroke-width="2.6" stroke-linejoin="round"/>
<rect x="1473.85" y="405.85" width="20.8" height="20.8" fill="#007d0f" stroke="#007d0f" stroke-width="2.6" stroke-linejoin="round"/>
<rect x="1537.1" y="372.6" width="20.8" height="20.8" fill="#007d0f" stroke="#007d0f" stroke-width="2.6" stroke-linejoin="round"/>
<path d="M1258.25,524.83L1268.42,535L1258.25,545.17L1248.08,535Z" fill="#0000cd" stroke="#0000cd" stroke-width="2.6" stroke-linejoin="round"/>
<path d="M1358,508.58L1368.17,518.75L1358,528.92L1347.83,518.75Z" fill="#0000cd" stroke="#0000cd" stroke-width="2.6" stroke-linejoin="round"/>
<path d="M1434.5,469.83L1444.67,480L1434.5,490.17L1424.33,480Z" fill="#0000cd" stroke="#0000cd" stroke-width="2.6" stroke-linejoin="round"/>
<path d="M1483.75,486.08L1493.92,496.25L1483.75,506.42L1473.58,496.25Z" fill="#0000cd" stroke="#0000cd" stroke-width="2.6" stroke-linejoin="round"/>
<path d="M1546.75,464.83L1556.92,475L1546.75,485.17L1536.58,475Z" fill="#0000cd" stroke="#0000cd" stroke-width="2.6" stroke-linejoin="round"/>
<path d="M1609.25,416.08L1619.42,426.25L1609.25,436.42L1599.08,426.25Z" fill="#0000cd" stroke="#0000cd" stroke-width="2.6" stroke-linejoin="round"/>
<path d="M1692.5,262.83L1702.67,273L1692.5,283.17L1682.33,273Z" fill="#0000cd" stroke="#0000cd" stroke-width="2.6" stroke-linejoin="round"/>
<path d="M1723.5,355.83L1733.67,366L1723.5,376.17L1713.33,366Z" fill="#0000cd" stroke="#0000cd" stroke-width="2.6" stroke-linejoin="round"/>
<text transform="translate(1091.5,30.5) scale(1,1)" text-anchor="middle" fill="#000" stroke="#000" font-size="21.7" >b</text>
<text transform="translate(1286,130.5) scale(0.95,1)" text-anchor="middle" fill="#000" stroke="#000" font-size="22.6" >iGO</text>
<text transform="translate(1558.5,130.5) scale(0.95,1)" text-anchor="middle" fill="#000" stroke="#000" font-size="22.6" >mGO</text>
<text transform="translate(1820.5,130.5) scale(0.95,1)" text-anchor="middle" fill="#000" stroke="#000" font-size="22.6" >tGO</text>
<text transform="translate(1168,732.5) scale(0.95,1)" text-anchor="end" fill="#000" stroke="#000" font-size="22.6" >6</text>
<text transform="translate(1168,623.22) scale(0.95,1)" text-anchor="end" fill="#000" stroke="#000" font-size="22.6" >8</text>
<text transform="translate(1168,513.94) scale(0.95,1)" text-anchor="end" fill="#000" stroke="#000" font-size="22.6" >10</text>
<text transform="translate(1168,404.66) scale(0.95,1)" text-anchor="end" fill="#000" stroke="#000" font-size="22.6" >12</text>
<text transform="translate(1168,295.38) scale(0.95,1)" text-anchor="end" fill="#000" stroke="#000" font-size="22.6" >14</text>
<text transform="translate(1168,186.1) scale(0.95,1)" text-anchor="end" fill="#000" stroke="#000" font-size="22.6" >16</text>
<text transform="translate(1168,76.82) scale(0.95,1)" text-anchor="end" fill="#000" stroke="#000" font-size="22.6" >18</text>
<text transform="translate(1198.75,769.5) scale(0.95,1)" text-anchor="middle" fill="#000" stroke="#000" font-size="22.6" >0</text>
<text transform="translate(1384.25,769.5) scale(0.95,1)" text-anchor="middle" fill="#000" stroke="#000" font-size="22.6" >1</text>
<text transform="translate(1592.5,769.5) scale(0.95,1)" text-anchor="middle" fill="#000" stroke="#000" font-size="22.6" >10</text>
<text transform="translate(1802.5,769.5) scale(0.95,1)" text-anchor="middle" fill="#000" stroke="#000" font-size="22.6" >100</text>
<text transform="translate(1583.75,807.6) scale(0.95,1)" text-anchor="middle" fill="#000" stroke="#000" font-size="22.6" >Reduced time, log(<tspan font-style="italic">t</tspan><tspan dy="5" font-size="14.8">red</tspan><tspan dy="-5"> h</tspan><tspan dy="-7" font-size="14.8">-1</tspan><tspan dy="7">)</tspan></text>
<g transform="translate(1098,580.3) rotate(-90)" font-size="22.6" stroke="#000">
<text transform="translate(0,0) scale(0.95,1)" textLength="163.16" lengthAdjust="spacing">Band intensity of</text>
<text transform="translate(162.4,0) scale(0.95,1)">n-</text>
<text transform="translate(184,0) scale(0.95,1)"><tspan font-style="italic" font-family="Liberation Serif,serif" font-size="25">π</tspan><tspan font-style="italic" dy="-3">*</tspan></text>
<text transform="translate(210,0) scale(0.95,1)">transition</text>
<text transform="translate(304,0) scale(0.95,1)">(arb. u.)</text>
</g>
<rect x="251.2" y="871.3" width="46.6" height="654.3" fill="#a97954"/>
<rect x="660" y="871.3" width="21.25" height="654.3" fill="#a5a5a5"/>
<path d="M99.15,871.3H150.5" stroke="#000" stroke-width="3.9"/>
<path d="M170.1,871.3H833.3" stroke="#000" stroke-width="3.9"/>
<path d="M852.9,871.3H978.55" stroke="#000" stroke-width="3.9"/>
<path d="M99.15,1525.6H150.5" stroke="#000" stroke-width="3.9"/>
<path d="M170.1,1525.6H833.3" stroke="#000" stroke-width="3.9"/>
<path d="M852.9,1525.6H978.55" stroke="#000" stroke-width="3.9"/>
<path d="M101.1,871.3V1525.6M976.6,871.3V1525.6" stroke="#000" stroke-width="3.9"/>
<path d="M137.7,882.2Q139.3,883.2 140.5,880.5L158,860" stroke="#000" stroke-width="2" fill="none" stroke-linecap="butt"/>
<path d="M157.7,882.2Q159.3,883.2 160.5,880.5L178,860" stroke="#000" stroke-width="2" fill="none" stroke-linecap="butt"/>
<path d="M137.7,1536.5Q139.3,1537.5 140.5,1534.8L158,1514.3" stroke="#000" stroke-width="2" fill="none" stroke-linecap="butt"/>
<path d="M157.7,1536.5Q159.3,1537.5 160.5,1534.8L178,1514.3" stroke="#000" stroke-width="2" fill="none" stroke-linecap="butt"/>
<path d="M820.5,882.2Q822.1,883.2 823.3,880.5L840.8,860" stroke="#000" stroke-width="2" fill="none" stroke-linecap="butt"/>
<path d="M840.5,882.2Q842.1,883.2 843.3,880.5L860.8,860" stroke="#000" stroke-width="2" fill="none" stroke-linecap="butt"/>
<path d="M820.5,1536.5Q822.1,1537.5 823.3,1534.8L840.8,1514.3" stroke="#000" stroke-width="2" fill="none" stroke-linecap="butt"/>
<path d="M840.5,1536.5Q842.1,1537.5 843.3,1534.8L860.8,1514.3" stroke="#000" stroke-width="2" fill="none" stroke-linecap="butt"/>
<path d="M117.7,871.3v13M117.7,1525.6v-13M250.1,871.3v13M250.1,1525.6v-13M505.2,871.3v13M505.2,1525.6v-13M760.3,871.3v13M760.3,1525.6v-13M173.31,871.3v7.7M173.31,1525.6v-7.7M193.51,871.3v7.7M193.51,1525.6v-7.7M210.58,871.3v7.7M210.58,1525.6v-7.7M225.38,871.3v7.7M225.38,1525.6v-7.7M238.43,871.3v7.7M238.43,1525.6v-7.7M326.89,871.3v7.7M326.89,1525.6v-7.7M371.81,871.3v7.7M371.81,1525.6v-7.7M403.69,871.3v7.7M403.69,1525.6v-7.7M428.41,871.3v7.7M428.41,1525.6v-7.7M448.61,871.3v7.7M448.61,1525.6v-7.7M465.68,871.3v7.7M465.68,1525.6v-7.7M480.48,871.3v7.7M480.48,1525.6v-7.7M493.53,871.3v7.7M493.53,1525.6v-7.7M581.99,871.3v7.7M581.99,1525.6v-7.7M626.91,871.3v7.7M626.91,1525.6v-7.7M658.79,871.3v7.7M658.79,1525.6v-7.7M683.51,871.3v7.7M683.51,1525.6v-7.7M703.71,871.3v7.7M703.71,1525.6v-7.7M720.78,871.3v7.7M720.78,1525.6v-7.7M735.58,871.3v7.7M735.58,1525.6v-7.7M748.63,871.3v7.7M748.63,1525.6v-7.7M101.1,1394.75h12.3M976.6,1394.75h-12.3M101.1,1263.9h12.3M976.6,1263.9h-12.3M101.1,1133.05h12.3M976.6,1133.05h-12.3M101.1,1002.2h12.3M976.6,1002.2h-12.3" stroke="#000" stroke-width="3.9" fill="none"/>
<path d="M128,1096 L149,1096" fill="none" stroke="#000" stroke-width="3.6" stroke-linejoin="round" stroke-linecap="butt"/>
<path d="M173,1095.7 C186,1095.7 230.33,1095.68 251,1095.7 C271.67,1095.72 280.5,1095.63 297,1095.8 C313.5,1095.97 328.67,1095.75 350,1096.7 C371.33,1097.65 400,1099.87 425,1101.5 C450,1103.13 483.04,1105.25 500,1106.5 C516.96,1107.75 510.08,1107.12 526.75,1109 C543.42,1110.88 579.46,1115.04 600,1117.75 C620.54,1120.46 636.83,1123.17 650,1125.25 C663.17,1127.33 667.33,1127.96 679,1130.25 C690.67,1132.54 706.08,1135.46 720,1139 C733.92,1142.54 751.25,1147.54 762.5,1151.5 C773.75,1155.46 780.42,1159.42 787.5,1162.75 C794.58,1166.08 800,1168.58 805,1171.5 C810,1174.42 814.17,1177.75 817.5,1180.25 C820.83,1182.75 823.75,1185.46 825,1186.5" fill="none" stroke="#000" stroke-width="4.2" stroke-linejoin="round" stroke-linecap="butt"/>
<path d="M845,1202.75 C847.17,1205.79 853.5,1213.79 858,1221 C862.5,1228.21 867.25,1236.83 872,1246 C876.75,1255.17 881.58,1264.75 886.5,1276 C891.42,1287.25 896.5,1301 901.5,1313.5 C906.5,1326 912.67,1340.58 916.5,1351 C920.33,1361.42 921.75,1366 924.5,1376 C927.25,1386 930.75,1402.33 933,1411 C935.25,1419.67 937.17,1425.17 938,1428" fill="none" stroke="#000" stroke-width="4.4" stroke-linejoin="round" stroke-linecap="butt" stroke-dasharray="7.5 5.5"/>
<path d="M137.7,1106.4Q139.3,1107.4 140.5,1104.7L158,1084.2" stroke="#000" stroke-width="2" fill="none" stroke-linecap="butt"/>
<path d="M157.7,1106.4Q159.3,1107.4 160.5,1104.7L178,1084.2" stroke="#000" stroke-width="2" fill="none" stroke-linecap="butt"/>
<path d="M813.4,1203.4Q815,1204.4 816.2,1201.7L833.7,1181.2" stroke="#000" stroke-width="2" fill="none" stroke-linecap="butt"/>
<path d="M833.4,1203.4Q835,1204.4 836.2,1201.7L853.7,1181.2" stroke="#000" stroke-width="2" fill="none" stroke-linecap="butt"/>
<path d="M116.75,1089V1129.75" fill="none" stroke="#000" stroke-width="4"/>
<rect x="110.75" y="1089" width="12" height="4" fill="#000"/>
<rect x="110.75" y="1125.75" width="12" height="4" fill="#000"/>
<path d="M251.25,1056.25V1094.75" fill="none" stroke="#000" stroke-width="4"/>
<rect x="245.25" y="1056.25" width="12" height="4" fill="#000"/>
<rect x="245.25" y="1090.75" width="12" height="4" fill="#000"/>
<path d="M526.75,1094.5V1131" fill="none" stroke="#000" stroke-width="4"/>
<rect x="520.75" y="1094.5" width="12" height="4" fill="#000"/>
<rect x="520.75" y="1127" width="12" height="4" fill="#000"/>
<path d="M679.25,1100V1176.75" fill="none" stroke="#000" stroke-width="4"/>
<rect x="673.25" y="1100" width="12" height="4" fill="#000"/>
<rect x="673.25" y="1172.75" width="12" height="4" fill="#000"/>
<path d="M817.5,1130.75V1187.75" fill="none" stroke="#000" stroke-width="4"/>
<rect x="811.5" y="1130.75" width="12" height="4" fill="#000"/>
<rect x="811.5" y="1183.75" width="12" height="4" fill="#000"/>
<path d="M940,1427.3V1456.2" fill="none" stroke="#c00000" stroke-width="4"/>
<rect x="935" y="1427.3" width="10" height="4" fill="#c00000"/>
<rect x="935" y="1452.2" width="10" height="4" fill="#c00000"/>
<circle cx="116.75" cy="1109" r="13.2" fill="#000" stroke="#000" stroke-width="0"/>
<circle cx="251.25" cy="1075.25" r="13.2" fill="#000" stroke="#000" stroke-width="0"/>
<circle cx="526.75" cy="1112.75" r="13.2" fill="#000" stroke="#000" stroke-width="0"/>
<circle cx="679.25" cy="1139" r="13.2" fill="#000" stroke="#000" stroke-width="0"/>
<circle cx="817.5" cy="1159" r="13.2" fill="#000" stroke="#000" stroke-width="0"/>
<rect x="930.3" y="1432.05" width="19.4" height="19.4" fill="#c00000" stroke="#c00000" stroke-width="2.6" stroke-linejoin="round"/>
<text transform="translate(6.5,835.25) scale(1,1)" text-anchor="middle" fill="#000" stroke="#000" font-size="21.7" >c</text>
<text transform="translate(160,922.75) scale(0.95,1)" text-anchor="middle" fill="#000" stroke="#000" font-size="22.6" >iGO</text>
<text transform="translate(470,922.75) scale(0.95,1)" text-anchor="middle" fill="#000" stroke="#000" font-size="22.6" >mGO</text>
<text transform="translate(763.75,922.75) scale(0.95,1)" text-anchor="middle" fill="#000" stroke="#000" font-size="22.6" >tGO</text>
<text transform="translate(917,922.75) scale(0.95,1)" text-anchor="middle" fill="#c00000" stroke="#c00000" font-size="22.6" >rGO</text>
<text transform="translate(935,1500.25) scale(0.95,1)" text-anchor="middle" fill="#c00000" stroke="#c00000" font-size="22.6" >rGO</text>
<text transform="translate(85.5,1537.2) scale(0.95,1)" text-anchor="end" fill="#000" stroke="#000" font-size="22.6" >15</text>
<text transform="translate(85.5,1406.35) scale(0.95,1)" text-anchor="end" fill="#000" stroke="#000" font-size="22.6" >20</text>
<text transform="translate(85.5,1275.5) scale(0.95,1)" text-anchor="end" fill="#000" stroke="#000" font-size="22.6" >25</text>
<text transform="translate(85.5,1144.65) scale(0.95,1)" text-anchor="end" fill="#000" stroke="#000" font-size="22.6" >30</text>
<text transform="translate(85.5,1013.8) scale(0.95,1)" text-anchor="end" fill="#000" stroke="#000" font-size="22.6" >35</text>
<text transform="translate(85.5,882.95) scale(0.95,1)" text-anchor="end" fill="#000" stroke="#000" font-size="22.6" >40</text>
<text transform="translate(114.25,1574.75) scale(0.95,1)" text-anchor="middle" fill="#000" stroke="#000" font-size="22.6" >0</text>
<text transform="translate(252.5,1574.75) scale(0.95,1)" text-anchor="middle" fill="#000" stroke="#000" font-size="22.6" >1</text>
<text transform="translate(507,1574.75) scale(0.95,1)" text-anchor="middle" fill="#000" stroke="#000" font-size="22.6" >10</text>
<text transform="translate(761.25,1574.75) scale(0.95,1)" text-anchor="middle" fill="#000" stroke="#000" font-size="22.6" >100</text>
<text transform="translate(431.5,1621.4) scale(0.95,1)" font-size="22.6" stroke="#000" textLength="102.74" lengthAdjust="spacing">Time, log(</text>
<text transform="translate(533.6,1621.4) scale(0.95,1)" font-size="22.6" stroke="#000" font-style="italic">t</text>
<text transform="translate(542.8,1621.4) scale(0.95,1)" font-size="22.6" stroke="#000">h<tspan dy="-7.5" dx="0.7" font-size="15.2">-1</tspan><tspan dy="7.5" dx="0.7">)</tspan></text>
<g transform="translate(16.3,1319.7) rotate(-90)" font-size="22.6" stroke="#000">
<text transform="translate(0,0) scale(0.95,1)" textLength="256.21" lengthAdjust="spacing">Total oxygen content (%)</text>
</g>
<rect x="1275" y="872.9" width="44.8" height="654.2" fill="#a97954"/>
<rect x="1691.75" y="872.9" width="21.25" height="654.2" fill="#a5a5a5"/>
<path d="M1120.15,872.9H1171.5" stroke="#000" stroke-width="3.9"/>
<path d="M1191.1,872.9H1854.95" stroke="#000" stroke-width="3.9"/>
<path d="M1874.55,872.9H2000.05" stroke="#000" stroke-width="3.9"/>
<path d="M1120.15,1527.1H1171.5" stroke="#000" stroke-width="3.9"/>
<path d="M1191.1,1527.1H1854.95" stroke="#000" stroke-width="3.9"/>
<path d="M1874.55,1527.1H2000.05" stroke="#000" stroke-width="3.9"/>
<path d="M1122.1,872.9V1527.1M1998.1,872.9V1527.1" stroke="#000" stroke-width="3.9"/>
<path d="M1158.7,883.8Q1160.3,884.8 1161.5,882.1L1179,861.6" stroke="#000" stroke-width="2" fill="none" stroke-linecap="butt"/>
<path d="M1178.7,883.8Q1180.3,884.8 1181.5,882.1L1199,861.6" stroke="#000" stroke-width="2" fill="none" stroke-linecap="butt"/>
<path d="M1158.7,1538Q1160.3,1539 1161.5,1536.3L1179,1515.8" stroke="#000" stroke-width="2" fill="none" stroke-linecap="butt"/>
<path d="M1178.7,1538Q1180.3,1539 1181.5,1536.3L1199,1515.8" stroke="#000" stroke-width="2" fill="none" stroke-linecap="butt"/>
<path d="M1842.15,883.8Q1843.75,884.8 1844.95,882.1L1862.45,861.6" stroke="#000" stroke-width="2" fill="none" stroke-linecap="butt"/>
<path d="M1862.15,883.8Q1863.75,884.8 1864.95,882.1L1882.45,861.6" stroke="#000" stroke-width="2" fill="none" stroke-linecap="butt"/>
<path d="M1842.15,1538Q1843.75,1539 1844.95,1536.3L1862.45,1515.8" stroke="#000" stroke-width="2" fill="none" stroke-linecap="butt"/>
<path d="M1862.15,1538Q1863.75,1539 1864.95,1536.3L1882.45,1515.8" stroke="#000" stroke-width="2" fill="none" stroke-linecap="butt"/>
<path d="M1138.4,872.9v13M1138.4,1527.1v-13M1273,872.9v13M1273,1527.1v-13M1533,872.9v13M1533,1527.1v-13M1793,872.9v13M1793,1527.1v-13M1194.73,872.9v7.7M1194.73,1527.1v-7.7M1215.32,872.9v7.7M1215.32,1527.1v-7.7M1232.73,872.9v7.7M1232.73,1527.1v-7.7M1247.8,872.9v7.7M1247.8,1527.1v-7.7M1261.1,872.9v7.7M1261.1,1527.1v-7.7M1351.27,872.9v7.7M1351.27,1527.1v-7.7M1397.05,872.9v7.7M1397.05,1527.1v-7.7M1429.54,872.9v7.7M1429.54,1527.1v-7.7M1454.73,872.9v7.7M1454.73,1527.1v-7.7M1475.32,872.9v7.7M1475.32,1527.1v-7.7M1492.73,872.9v7.7M1492.73,1527.1v-7.7M1507.8,872.9v7.7M1507.8,1527.1v-7.7M1521.1,872.9v7.7M1521.1,1527.1v-7.7M1611.27,872.9v7.7M1611.27,1527.1v-7.7M1657.05,872.9v7.7M1657.05,1527.1v-7.7M1689.54,872.9v7.7M1689.54,1527.1v-7.7M1714.73,872.9v7.7M1714.73,1527.1v-7.7M1735.32,872.9v7.7M1735.32,1527.1v-7.7M1752.73,872.9v7.7M1752.73,1527.1v-7.7M1767.8,872.9v7.7M1767.8,1527.1v-7.7M1781.1,872.9v7.7M1781.1,1527.1v-7.7M1122.1,1396.26h12.3M1998.1,1396.26h-12.3M1122.1,1265.42h12.3M1998.1,1265.42h-12.3M1122.1,1134.58h12.3M1998.1,1134.58h-12.3M1122.1,1003.74h12.3M1998.1,1003.74h-12.3" stroke="#000" stroke-width="3.9" fill="none"/>
<path d="M1140,1365.5 C1150,1365.5 1177.71,1365.5 1200,1365.5 C1222.29,1365.5 1259.08,1365.62 1273.75,1365.5 C1288.42,1365.38 1283.29,1364.55 1288,1364.8 C1292.71,1365.05 1296.33,1366.05 1302,1367 C1307.67,1367.95 1315.5,1369.4 1322,1370.5 C1328.5,1371.6 1331.33,1372.1 1341,1373.6 C1350.67,1375.1 1370.17,1378.1 1380,1379.5 C1389.83,1380.9 1390.42,1380.29 1400,1382 C1409.58,1383.71 1425,1387.33 1437.5,1389.75 C1450,1392.17 1464.58,1394.79 1475,1396.5 C1485.42,1398.21 1486.88,1397.17 1500,1400 C1513.12,1402.83 1532.92,1407.5 1553.75,1413.5 C1574.58,1419.5 1604.79,1429.96 1625,1436 C1645.21,1442.04 1660.92,1446.21 1675,1449.75 C1689.08,1453.29 1701.17,1456.21 1709.5,1457.25 C1717.83,1458.29 1716.17,1457.25 1725,1456 C1733.83,1454.75 1750,1451.83 1762.5,1449.75 C1775,1447.67 1789.58,1445.38 1800,1443.5 C1810.42,1441.62 1816.46,1440.17 1825,1438.5 C1833.54,1436.83 1843.12,1434.42 1851.25,1433.5 C1859.38,1432.58 1870,1433.08 1873.75,1433" fill="none" stroke="#007d0f" stroke-width="3.6" stroke-linejoin="round" stroke-linecap="butt"/>
<path d="M1880,1428.5 C1883.33,1427.67 1893.33,1426 1900,1423.5 C1906.67,1421 1914.17,1417.25 1920,1413.5 C1925.83,1409.75 1932.5,1403.08 1935,1401" fill="none" stroke="#007d0f" stroke-width="4.4" stroke-linejoin="round" stroke-linecap="butt" stroke-dasharray="7.5 5.5"/>
<path d="M1140,1442 C1142.17,1442.25 1147.17,1442.42 1153,1443.5 C1158.83,1444.58 1167.17,1446.83 1175,1448.5 C1182.83,1450.17 1192.92,1452.46 1200,1453.5 C1207.08,1454.54 1209.17,1453.29 1217.5,1454.75 C1225.83,1456.21 1240.75,1460.58 1250,1462.25 C1259.25,1463.92 1266.75,1464.33 1273,1464.75 C1279.25,1465.17 1279.67,1464.12 1287.5,1464.75 C1295.33,1465.38 1309.58,1467.25 1320,1468.5 C1330.42,1469.75 1338.75,1471 1350,1472.25 C1361.25,1473.5 1375,1474.75 1387.5,1476 C1400,1477.25 1412.5,1478.58 1425,1479.75 C1437.5,1480.92 1450,1482.17 1462.5,1483 C1475,1483.83 1484.92,1484.46 1500,1484.75 C1515.08,1485.04 1536.33,1485.38 1553,1484.75 C1569.67,1484.12 1588,1481.62 1600,1481 C1612,1480.38 1612.5,1481.62 1625,1481 C1637.5,1480.38 1660.92,1478.08 1675,1477.25 C1689.08,1476.42 1692,1476.12 1709.5,1476 C1727,1475.88 1756.38,1476.29 1780,1476.5 C1803.62,1476.71 1839.38,1477.12 1851.25,1477.25" fill="none" stroke="#9a15d6" stroke-width="3.6" stroke-linejoin="round" stroke-linecap="butt"/>
<path d="M1868,1478.5 C1873.33,1479.33 1890.5,1481.83 1900,1483.5 C1909.5,1485.17 1919,1487.04 1925,1488.5 C1931,1489.96 1934.17,1491.62 1936,1492.25" fill="none" stroke="#9a15d6" stroke-width="4.4" stroke-linejoin="round" stroke-linecap="butt" stroke-dasharray="7.5 5.5"/>
<path d="M1139,1506 C1141.67,1504.75 1149,1501.42 1155,1498.5 C1161,1495.58 1167.5,1492.25 1175,1488.5 C1182.5,1484.75 1192.5,1479.96 1200,1476 C1207.5,1472.04 1211.67,1470.17 1220,1464.75 C1228.33,1459.33 1241.04,1450.38 1250,1443.5 C1258.96,1436.62 1266.25,1430.17 1273.75,1423.5 C1281.25,1416.83 1286.88,1411.83 1295,1403.5 C1303.12,1395.17 1313.33,1384 1322.5,1373.5 C1331.67,1363 1341.25,1350.58 1350,1340.5 C1358.75,1330.42 1366.67,1322.17 1375,1313 C1383.33,1303.83 1390,1296 1400,1285.5 C1410,1275 1425.83,1259.88 1435,1250 C1444.17,1240.12 1448.33,1233.33 1455,1226.25 C1461.67,1219.17 1468.33,1214.38 1475,1207.5 C1481.67,1200.62 1488.33,1191.88 1495,1185 C1501.67,1178.12 1507.92,1172.5 1515,1166.25 C1522.08,1160 1531.17,1152.38 1537.5,1147.5 C1543.83,1142.62 1550.42,1138.75 1553,1137" fill="none" stroke="#0000cd" stroke-width="5.2" stroke-linejoin="round" stroke-linecap="butt"/>
<path d="M1553,1137 C1556.25,1137 1564.67,1136.92 1572.5,1137 C1580.33,1137.08 1591.25,1137.62 1600,1137.5 C1608.75,1137.38 1614.58,1136.54 1625,1136.25 C1635.42,1135.96 1648.33,1136.04 1662.5,1135.75 C1676.67,1135.46 1695.42,1135.04 1710,1134.5 C1724.58,1133.96 1736.67,1133.33 1750,1132.5 C1763.33,1131.67 1777.92,1130.5 1790,1129.5 C1802.08,1128.5 1812.33,1127 1822.5,1126.5 C1832.67,1126 1846.25,1126.5 1851,1126.5" fill="none" stroke="#0000cd" stroke-width="3.4" stroke-linejoin="round" stroke-linecap="butt"/>
<path d="M1867.5,1132.75 C1870.42,1133.79 1878.75,1135.04 1885,1139 C1891.25,1142.96 1899.17,1150.67 1905,1156.5 C1910.83,1162.33 1915.17,1168.25 1920,1174 C1924.83,1179.75 1931.67,1188.17 1934,1191" fill="none" stroke="#0000cd" stroke-width="4.4" stroke-linejoin="round" stroke-linecap="butt" stroke-dasharray="7.5 5.5"/>
<path d="M1139,1054 C1140.83,1054.08 1144.42,1054.08 1150,1054.5 C1155.58,1054.92 1164.17,1056.25 1172.5,1056.5 C1180.83,1056.75 1192.92,1055.79 1200,1056 C1207.08,1056.21 1208.33,1057.46 1215,1057.75 C1221.67,1058.04 1232.5,1057.33 1240,1057.75 C1247.5,1058.17 1254.5,1059.62 1260,1060.25 C1265.5,1060.88 1267.17,1060.75 1273,1061.5 C1278.83,1062.25 1287.58,1062.67 1295,1064.75 C1302.42,1066.83 1310.42,1070.79 1317.5,1074 C1324.58,1077.21 1330,1080.58 1337.5,1084 C1345,1087.42 1354.58,1090.96 1362.5,1094.5 C1370.42,1098.04 1376.67,1101.38 1385,1105.25 C1393.33,1109.12 1403.75,1113.12 1412.5,1117.75 C1421.25,1122.38 1427.08,1127.71 1437.5,1133 C1447.92,1138.29 1462.5,1142.92 1475,1149.5 C1487.5,1156.08 1499.5,1165.54 1512.5,1172.5 C1525.5,1179.46 1542.58,1186.67 1553,1191.25 C1563.42,1195.83 1565.08,1196.04 1575,1200 C1584.92,1203.96 1600,1210.62 1612.5,1215 C1625,1219.38 1637.5,1222.5 1650,1226.25 C1662.5,1230 1677.67,1234.42 1687.5,1237.5 C1697.33,1240.58 1698.58,1241.83 1709,1244.75 C1719.42,1247.67 1739,1252.29 1750,1255 C1761,1257.71 1764.58,1258.75 1775,1261 C1785.42,1263.25 1802.08,1266.33 1812.5,1268.5 C1822.92,1270.67 1833.33,1273.08 1837.5,1274" fill="none" stroke="#fb0707" stroke-width="4.6" stroke-linejoin="round" stroke-linecap="butt"/>
<path d="M1866.25,1281 C1869.38,1282.25 1878.54,1284.75 1885,1288.5 C1891.46,1292.25 1899.17,1297.25 1905,1303.5 C1910.83,1309.75 1915.42,1318.92 1920,1326 C1924.58,1333.08 1928.75,1340.17 1932.5,1346 C1936.25,1351.83 1940.83,1358.5 1942.5,1361" fill="none" stroke="#fb0707" stroke-width="4.4" stroke-linejoin="round" stroke-linecap="butt" stroke-dasharray="7.5 5.5"/>
<path d="M1139.25,1330.75V1421.75" fill="none" stroke="#007d0f" stroke-width="4"/>
<rect x="1133.75" y="1330.75" width="11" height="4" fill="#007d0f"/>
<rect x="1133.75" y="1417.75" width="11" height="4" fill="#007d0f"/>
<path d="M1273.75,1299.75V1437" fill="none" stroke="#007d0f" stroke-width="4"/>
<rect x="1268.25" y="1299.75" width="11" height="4" fill="#007d0f"/>
<path d="M1553.75,1341.5V1422" fill="none" stroke="#007d0f" stroke-width="4"/>
<rect x="1548.25" y="1341.5" width="11" height="4" fill="#007d0f"/>
<path d="M1709.5,1389V1467" fill="none" stroke="#007d0f" stroke-width="4"/>
<rect x="1704" y="1389" width="11" height="4" fill="#007d0f"/>
<path d="M1851.25,1367.75V1447" fill="none" stroke="#007d0f" stroke-width="4"/>
<rect x="1845.75" y="1367.75" width="11" height="4" fill="#007d0f"/>
<path d="M1946.75,1350.25V1442.25" fill="none" stroke="#007d0f" stroke-width="4"/>
<rect x="1941.25" y="1350.25" width="11" height="4" fill="#007d0f"/>
<rect x="1941.25" y="1438.25" width="11" height="4" fill="#007d0f"/>
<path d="M1139.25,1459.75V1525.2" fill="none" stroke="#0000cd" stroke-width="4"/>
<rect x="1133.75" y="1459.75" width="11" height="4" fill="#0000cd"/>
<path d="M1273.75,1372.5V1505.5" fill="none" stroke="#0000cd" stroke-width="4"/>
<rect x="1268.25" y="1372.5" width="11" height="4" fill="#0000cd"/>
<rect x="1268.25" y="1501.5" width="11" height="4" fill="#0000cd"/>
<path d="M1553.75,1069.25V1207" fill="none" stroke="#0000cd" stroke-width="4"/>
<rect x="1548.25" y="1069.25" width="11" height="4" fill="#0000cd"/>
<rect x="1548.25" y="1203" width="11" height="4" fill="#0000cd"/>
<path d="M1710,1098.5V1234" fill="none" stroke="#0000cd" stroke-width="4"/>
<rect x="1704.5" y="1098.5" width="11" height="4" fill="#0000cd"/>
<rect x="1704.5" y="1230" width="11" height="4" fill="#0000cd"/>
<path d="M1851.25,1054.5V1189.75" fill="none" stroke="#0000cd" stroke-width="4"/>
<rect x="1845.75" y="1054.5" width="11" height="4" fill="#0000cd"/>
<rect x="1845.75" y="1185.75" width="11" height="4" fill="#0000cd"/>
<path d="M1946.75,1165.25V1256.25" fill="none" stroke="#0000cd" stroke-width="4"/>
<rect x="1941.25" y="1165.25" width="11" height="4" fill="#0000cd"/>
<rect x="1941.25" y="1252.25" width="11" height="4" fill="#0000cd"/>
<path d="M1138.75,1396V1487.5" fill="none" stroke="#9a15d6" stroke-width="4"/>
<rect x="1133.25" y="1396" width="11" height="4" fill="#9a15d6"/>
<rect x="1133.25" y="1483.5" width="11" height="4" fill="#9a15d6"/>
<path d="M1273,1397.75V1518" fill="none" stroke="#9a15d6" stroke-width="4"/>
<rect x="1267.5" y="1397.75" width="11" height="4" fill="#9a15d6"/>
<path d="M1553,1418V1525.2" fill="none" stroke="#9a15d6" stroke-width="4"/>
<rect x="1547.5" y="1418" width="11" height="4" fill="#9a15d6"/>
<path d="M1709.5,1405.25V1525.2" fill="none" stroke="#9a15d6" stroke-width="4"/>
<rect x="1704" y="1405.25" width="11" height="4" fill="#9a15d6"/>
<path d="M1851.25,1411V1525.2" fill="none" stroke="#9a15d6" stroke-width="4"/>
<rect x="1845.75" y="1411" width="11" height="4" fill="#9a15d6"/>
<path d="M1947.5,1452.75V1525.2" fill="none" stroke="#9a15d6" stroke-width="4"/>
<rect x="1942" y="1452.75" width="11" height="4" fill="#9a15d6"/>
<path d="M1139.25,1012.5V1104.25" fill="none" stroke="#fb0707" stroke-width="4"/>
<rect x="1133.75" y="1012.5" width="11" height="4" fill="#fb0707"/>
<rect x="1133.75" y="1100.25" width="11" height="4" fill="#fb0707"/>
<path d="M1273,996.5V1131.5" fill="none" stroke="#fb0707" stroke-width="4"/>
<rect x="1267.5" y="996.5" width="11" height="4" fill="#fb0707"/>
<rect x="1267.5" y="1127.5" width="11" height="4" fill="#fb0707"/>
<path d="M1553,1138V1256.5" fill="none" stroke="#fb0707" stroke-width="4"/>
<rect x="1547.5" y="1138" width="11" height="4" fill="#fb0707"/>
<rect x="1547.5" y="1252.5" width="11" height="4" fill="#fb0707"/>
<path d="M1709.25,1168V1291.25" fill="none" stroke="#fb0707" stroke-width="4"/>
<rect x="1703.75" y="1168" width="11" height="4" fill="#fb0707"/>
<rect x="1703.75" y="1287.25" width="11" height="4" fill="#fb0707"/>
<path d="M1850.75,1205.75V1340" fill="none" stroke="#fb0707" stroke-width="4"/>
<rect x="1845.25" y="1205.75" width="11" height="4" fill="#fb0707"/>
<rect x="1845.25" y="1336" width="11" height="4" fill="#fb0707"/>
<path d="M1946.75,1321V1413.5" fill="none" stroke="#fb0707" stroke-width="4"/>
<rect x="1941.25" y="1321" width="11" height="4" fill="#fb0707"/>
<rect x="1941.25" y="1409.5" width="11" height="4" fill="#fb0707"/>
<circle cx="1139.25" cy="1378.5" r="13.5" fill="#007d0f" stroke="#007d0f" stroke-width="0"/>
<circle cx="1273.75" cy="1368.5" r="13.5" fill="#007d0f" stroke="#007d0f" stroke-width="0"/>
<circle cx="1553.75" cy="1409.75" r="13.5" fill="#007d0f" stroke="#007d0f" stroke-width="0"/>
<circle cx="1709.5" cy="1456" r="13.5" fill="#007d0f" stroke="#007d0f" stroke-width="0"/>
<circle cx="1851.25" cy="1434.75" r="13.5" fill="#007d0f" stroke="#007d0f" stroke-width="0"/>
<circle cx="1946.75" cy="1394.75" r="13.5" fill="#007d0f" stroke="#007d0f" stroke-width="0"/>
<rect x="1125.15" y="1491.9" width="28.2" height="28.2" fill="#0000cd" stroke="#0000cd" stroke-width="2.6" stroke-linejoin="round"/>
<rect x="1259.65" y="1424.9" width="28.2" height="28.2" fill="#0000cd" stroke="#0000cd" stroke-width="2.6" stroke-linejoin="round"/>
<rect x="1539.65" y="1122.9" width="28.2" height="28.2" fill="#0000cd" stroke="#0000cd" stroke-width="2.6" stroke-linejoin="round"/>
<rect x="1695.9" y="1152.15" width="28.2" height="28.2" fill="#0000cd" stroke="#0000cd" stroke-width="2.6" stroke-linejoin="round"/>
<rect x="1837.15" y="1108.65" width="28.2" height="28.2" fill="#0000cd" stroke="#0000cd" stroke-width="2.6" stroke-linejoin="round"/>
<rect x="1932.65" y="1197.9" width="28.2" height="28.2" fill="#0000cd" stroke="#0000cd" stroke-width="2.6" stroke-linejoin="round"/>
<path d="M1138.75,1428.28L1152.52,1442.25L1138.75,1456.22L1124.98,1442.25Z" fill="#9a15d6" stroke="#9a15d6" stroke-width="2.6" stroke-linejoin="round"/>
<path d="M1273,1451.28L1286.77,1465.25L1273,1479.22L1259.23,1465.25Z" fill="#9a15d6" stroke="#9a15d6" stroke-width="2.6" stroke-linejoin="round"/>
<path d="M1553,1468.78L1566.77,1482.75L1553,1496.72L1539.23,1482.75Z" fill="#9a15d6" stroke="#9a15d6" stroke-width="2.6" stroke-linejoin="round"/>
<path d="M1709.5,1459.03L1723.27,1473L1709.5,1486.97L1695.73,1473Z" fill="#9a15d6" stroke="#9a15d6" stroke-width="2.6" stroke-linejoin="round"/>
<path d="M1851.25,1463.28L1865.02,1477.25L1851.25,1491.22L1837.48,1477.25Z" fill="#9a15d6" stroke="#9a15d6" stroke-width="2.6" stroke-linejoin="round"/>
<path d="M1947.5,1484.53L1961.27,1498.5L1947.5,1512.47L1933.73,1498.5Z" fill="#9a15d6" stroke="#9a15d6" stroke-width="2.6" stroke-linejoin="round"/>
<path d="M1139.25,1042.4L1153.45,1067L1125.05,1067Z" fill="#fb0707" stroke="#fb0707" stroke-width="2.4" stroke-linejoin="bevel"/>
<path d="M1273,1048L1287.2,1072.6L1258.8,1072.6Z" fill="#fb0707" stroke="#fb0707" stroke-width="2.4" stroke-linejoin="bevel"/>
<path d="M1553,1177L1567.2,1201.6L1538.8,1201.6Z" fill="#fb0707" stroke="#fb0707" stroke-width="2.4" stroke-linejoin="bevel"/>
<path d="M1709.25,1212L1723.45,1236.6L1695.05,1236.6Z" fill="#fb0707" stroke="#fb0707" stroke-width="2.4" stroke-linejoin="bevel"/>
<path d="M1850.75,1259L1864.95,1283.6L1836.55,1283.6Z" fill="#fb0707" stroke="#fb0707" stroke-width="2.4" stroke-linejoin="bevel"/>
<path d="M1946.75,1351L1960.95,1375.6L1932.55,1375.6Z" fill="#fb0707" stroke="#fb0707" stroke-width="2.4" stroke-linejoin="bevel"/>
<path d="M1946.75,1323V1411.5" fill="none" stroke="#fb0707" stroke-width="4"/>
<rect x="1941.25" y="1323" width="11" height="4" fill="#fb0707"/>
<rect x="1941.25" y="1407.5" width="11" height="4" fill="#fb0707"/>
<path d="M1946.75,1351L1960.95,1375.6L1932.55,1375.6Z" fill="#fb0707" stroke="#fb0707" stroke-width="2.4" stroke-linejoin="bevel"/>
<text transform="translate(1028,836.5) scale(1,1)" text-anchor="middle" fill="#000" stroke="#000" font-size="21.7" >d</text>
<text transform="translate(1201.5,924) scale(0.95,1)" text-anchor="middle" fill="#000" stroke="#000" font-size="22.6" >iGO</text>
<text transform="translate(1498,924) scale(0.95,1)" text-anchor="middle" fill="#000" stroke="#000" font-size="22.6" >mGO</text>
<text transform="translate(1785.6,924) scale(0.95,1)" text-anchor="middle" fill="#000" stroke="#000" font-size="22.6" >tGO</text>
<text transform="translate(1933,924) scale(0.95,1)" text-anchor="middle" fill="#c00000" stroke="#c00000" font-size="22.6" >rGO</text>
<text transform="translate(1946.25,1577.25) scale(0.95,1)" text-anchor="middle" fill="#c00000" stroke="#c00000" font-size="22.6" >rGO</text>
<text transform="translate(1346,1061.5) scale(0.95,1)" text-anchor="start" fill="#fb0707" stroke="#fb0707" font-size="22.6" >C-O-C</text>
<text transform="translate(1351,1258) scale(0.95,1)" text-anchor="start" fill="#0000cd" stroke="#0000cd" font-size="22.6" >C-OH</text>
<text transform="translate(1442,1366.5) scale(0.95,1)" text-anchor="start" fill="#007d0f" stroke="#007d0f" font-size="22.6" >C=O</text>
<text transform="translate(1348,1457.25) scale(0.95,1)" text-anchor="start" fill="#9a15d6" stroke="#9a15d6" font-size="22.6" >COOH</text>
<text transform="translate(1106.5,1538.7) scale(0.95,1)" text-anchor="end" fill="#000" stroke="#000" font-size="22.6" >0</text>
<text transform="translate(1106.5,1407.86) scale(0.95,1)" text-anchor="end" fill="#000" stroke="#000" font-size="22.6" >10</text>
<text transform="translate(1106.5,1277.02) scale(0.95,1)" text-anchor="end" fill="#000" stroke="#000" font-size="22.6" >20</text>
<text transform="translate(1106.5,1146.18) scale(0.95,1)" text-anchor="end" fill="#000" stroke="#000" font-size="22.6" >30</text>
<text transform="translate(1106.5,1015.34) scale(0.95,1)" text-anchor="end" fill="#000" stroke="#000" font-size="22.6" >40</text>
<text transform="translate(1106.5,884.5) scale(0.95,1)" text-anchor="end" fill="#000" stroke="#000" font-size="22.6" >50</text>
<text transform="translate(1135.5,1576) scale(0.95,1)" text-anchor="middle" fill="#000" stroke="#000" font-size="22.6" >0</text>
<text transform="translate(1274.25,1576) scale(0.95,1)" text-anchor="middle" fill="#000" stroke="#000" font-size="22.6" >1</text>
<text transform="translate(1533.25,1576) scale(0.95,1)" text-anchor="middle" fill="#000" stroke="#000" font-size="22.6" >10</text>
<text transform="translate(1793,1576) scale(0.95,1)" text-anchor="middle" fill="#000" stroke="#000" font-size="22.6" >100</text>
<text transform="translate(1452.3,1623.2) scale(0.95,1)" font-size="22.6" stroke="#000" textLength="102.74" lengthAdjust="spacing">Time, log(</text>
<text transform="translate(1554.4,1623.2) scale(0.95,1)" font-size="22.6" stroke="#000" font-style="italic">t</text>
<text transform="translate(1563.6,1623.2) scale(0.95,1)" font-size="22.6" stroke="#000">h<tspan dy="-7.5" dx="0.7" font-size="15.2">-1</tspan><tspan dy="7.5" dx="0.7">)</tspan></text>
<g transform="translate(1036.6,1452.2) rotate(-90)" font-size="22.6" stroke="#000">
<text transform="translate(0,0) scale(0.95,1)" textLength="523.16" lengthAdjust="spacing">Fraction of oxygen-containing functional groups (%)</text>
</g>
</svg>
</body></html>
